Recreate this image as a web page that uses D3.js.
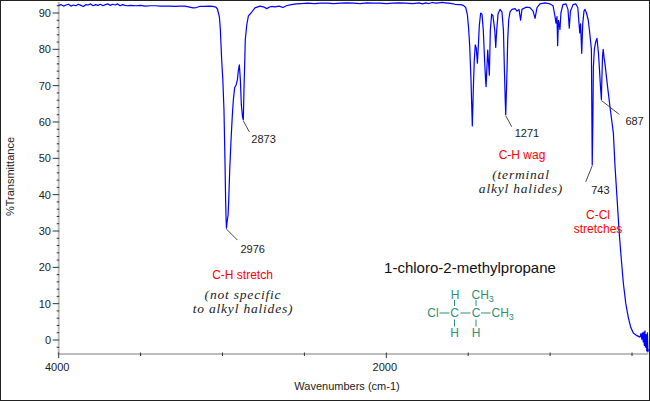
<!DOCTYPE html>
<html>
<head>
<meta charset="utf-8">
<script src="https://cdn.jsdelivr.net/npm/d3@7"></script>
<style>
  html, body { margin: 0; padding: 0; background: #fff; }
  svg { display: block; font-family: "Liberation Sans", Arial, sans-serif; }
</style>
</head>
<body>
<div id="chart"></div>
<script>
// Spectrum (wavenumber cm-1, %T)
const wavenumbers = [
  4000, 3985, 3970, 3955, 3940, 3925, 3910, 3895, 3880, 3865, 3850, 3835, 3820, 3805, 3790,
  3775, 3760, 3745, 3730, 3715, 3700, 3685, 3670, 3655, 3640, 3625, 3610, 3595, 3580, 3560,
  3530, 3500, 3470, 3440, 3410, 3380, 3350, 3320, 3290, 3260, 3230, 3200, 3180, 3160, 3140,
  3110, 3080, 3060, 3040, 3031, 3019, 3013, 3005, 2998, 2991, 2985, 2981, 2978, 2976, 2972,
  2966, 2962, 2956, 2948, 2940, 2934, 2926, 2917, 2909, 2903, 2897, 2891, 2885, 2878, 2873,
  2869, 2864, 2861, 2852, 2842, 2826, 2802, 2771, 2745, 2730, 2715, 2700, 2680, 2655, 2631,
  2610, 2580, 2550, 2520, 2480, 2440, 2400, 2360, 2320, 2280, 2240, 2200, 2160, 2120, 2080,
  2040, 2000, 1960, 1920, 1880, 1840, 1800, 1780, 1760, 1740, 1720, 1700, 1680, 1660, 1640,
  1620, 1600, 1580, 1560, 1545, 1530, 1515, 1505, 1498, 1491, 1483, 1477, 1475, 1469, 1463,
  1457, 1451, 1444, 1438, 1432, 1424, 1416, 1408, 1400, 1394, 1391, 1381, 1371, 1365, 1357,
  1349, 1338, 1332, 1326, 1318, 1306, 1294, 1285, 1279, 1274, 1271, 1263, 1259, 1253, 1245,
  1233, 1214, 1202, 1190, 1180, 1172, 1147, 1123, 1104, 1092, 1080, 1062, 1031, 1000, 982,
  970, 964, 958, 954, 949, 940, 934, 922, 903, 891, 883, 876, 860, 843, 831,
  819, 814, 807, 801, 793, 787, 778, 767, 757, 748, 743, 739, 736, 730, 722,
  714, 705, 698, 693, 687, 684, 680, 676, 670, 665, 650, 634, 614, 604, 590,
  578, 565, 553, 538, 523, 508, 492, 470, 451, 445, 440, 436, 432, 428, 425,
  421, 418, 414, 410, 406, 403, 400
];
const transmittance = [
  92.1, 92.3, 91.9, 92.2, 92.4, 91.9, 92.2, 92.0, 92.4, 92.1, 91.8, 92.3, 92.2, 92.5, 92.0,
  92.3, 92.1, 92.4, 92.0, 92.3, 92.5, 92.1, 92.4, 92.2, 92.5, 92.0, 92.3, 92.1, 92.0, 92.1,
  92.0, 92.1, 91.9, 92.0, 92.0, 91.9, 91.9, 91.9, 91.8, 91.9, 91.9, 91.6, 91.4, 91.5, 91.8,
  91.8, 91.9, 91.8, 91.6, 91.1, 88.9, 85.3, 77.0, 71.6, 63.3, 49.5, 38.5, 33.0, 30.8, 32.5,
  34.4, 38.5, 46.8, 55.0, 61.9, 66.0, 69.4, 70.2, 71.6, 74.3, 75.7, 71.6, 64.7, 61.5, 60.6,
  68.8, 77.0, 82.6, 86.7, 89.2, 90.0, 91.4, 91.9, 91.6, 91.2, 91.6, 91.8, 91.7, 91.9, 91.5,
  92.0, 92.3, 92.5, 92.6, 92.7, 92.6, 92.7, 92.7, 92.6, 92.7, 92.8, 92.7, 92.6, 92.8, 92.7,
  92.7, 92.6, 92.7, 92.8, 92.7, 92.6, 92.8, 92.5, 92.8, 92.6, 92.9, 92.7, 92.8, 92.9, 92.8,
  92.7, 92.6, 92.4, 92.3, 92.3, 92.1, 91.5, 89.5, 86.0, 81.0, 71.6, 62.0, 58.9, 68.8, 77.0,
  81.2, 80.4, 76.2, 81.2, 86.7, 90.0, 89.7, 85.3, 77.0, 71.6, 69.7, 79.8, 72.9, 85.3, 89.7,
  89.2, 85.3, 80.5, 85.3, 89.7, 91.0, 90.3, 85.3, 74.3, 66.0, 62.0, 74.3, 82.6, 88.0, 90.3,
  91.0, 91.2, 90.5, 91.0, 88.0, 91.0, 91.6, 91.5, 90.5, 88.5, 91.5, 92.5, 92.8, 92.5, 92.0,
  89.0, 87.2, 89.0, 81.0, 88.0, 85.5, 90.0, 92.3, 92.5, 91.0, 85.8, 90.5, 92.3, 92.5, 91.5,
  84.5, 87.0, 78.9, 87.0, 90.6, 91.0, 90.0, 88.0, 84.0, 80.0, 48.2, 60.0, 75.0, 80.0, 82.0,
  83.0, 79.0, 74.0, 70.0, 66.2, 72.0, 78.0, 80.0, 77.5, 76.0, 70.0, 64.0, 57.0, 48.0, 38.0,
  29.4, 22.0, 15.7, 10.0, 6.3, 3.5, 1.9, 1.2, 0.8, 1.8, 0.2, 2.0, -0.5, 2.2, -1.5,
  2.5, -2.0, 1.5, -3.0, 2.0, -3.3, -2.5
];

// Axis ticks
const xTickValues = [4000, 3500, 3000, 2500, 2000, 1500, 1000, 500];
const xTickLabels = [4000, 2000];
const yTickValues = [0, 10, 20, 30, 40, 50, 60, 70, 80, 90];

// Labelled peaks
const peakWavenumbers = [2976, 2873, 1271, 743, 687];
const peakLabels = ["2976", "2873", "1271", "743", "687"];

const width = 650, height = 401;

const svg = d3.select('#chart')
    .append('svg')
    .attr('width', width)
    .attr('height', height);

// scales
const x = d3.scaleLinear().domain([4000, 400]).range([58.7, 648.4]);
const y = d3.scaleLinear().domain([0, 90]).range([340, 13]);
const axisTop = 2, axisBottom = 354;

// frame
svg.append('rect')
    .attr('x', 0.5).attr('y', 0.5)
    .attr('width', width - 1).attr('height', height - 1)
    .attr('fill', '#fff')
    .attr('stroke', '#222');

// y axis
const yAxis = svg.append('g');
yAxis.append('line')
    .attr('x1', x(4000)).attr('x2', x(4000))
    .attr('y1', axisTop).attr('y2', axisBottom)
    .attr('stroke', '#bdbdbd').attr('stroke-width', 2);
yAxis.selectAll('line.minor')
    .data(d3.range(-2, 93, 2).filter(v => v % 10 !== 0))
    .enter().append('line')
    .attr('class', 'minor')
    .attr('x1', x(4000) - 2).attr('x2', x(4000) + 0.5)
    .attr('y1', d => y(d)).attr('y2', d => y(d))
    .attr('stroke', '#333');
yAxis.selectAll('line.major')
    .data(yTickValues)
    .enter().append('line')
    .attr('class', 'major')
    .attr('x1', x(4000) - 6).attr('x2', x(4000) + 0.5)
    .attr('y1', d => y(d)).attr('y2', d => y(d))
    .attr('stroke', '#333');
yAxis.selectAll('text')
    .data(yTickValues)
    .enter().append('text')
    .attr('x', 51).attr('y', d => y(d) + 4)
    .attr('text-anchor', 'end')
    .attr('font-size', 11)
    .attr('fill', '#222')
    .text(d => d);

// x axis
const xAxis = svg.append('g');
xAxis.append('line')
    .attr('x1', x(4000) - 1).attr('x2', x(400))
    .attr('y1', axisBottom).attr('y2', axisBottom)
    .attr('stroke', '#bdbdbd').attr('stroke-width', 2);
xAxis.selectAll('line.tick')
    .data(xTickValues)
    .enter().append('line')
    .attr('class', 'tick')
    .attr('x1', d => x(d)).attr('x2', d => x(d))
    .attr('y1', axisBottom - 1.5)
    .attr('y2', d => axisBottom + (xTickLabels.includes(d) ? 4 : 2))
    .attr('stroke', '#333');
xAxis.selectAll('text')
    .data(xTickLabels)
    .enter().append('text')
    .attr('x', d => x(d) - 1.5).attr('y', 371)
    .attr('text-anchor', 'middle')
    .attr('font-size', 11)
    .attr('fill', '#222')
    .text(d => d);

// axis titles
svg.append('text')
    .attr('transform', 'translate(13.5,176.5) rotate(-90)')
    .attr('text-anchor', 'middle')
    .attr('font-size', 11)
    .attr('fill', '#222')
    .text('%Transmittance');
svg.append('text')
    .attr('x', 347).attr('y', 390)
    .attr('text-anchor', 'middle')
    .attr('font-size', 11)
    .attr('fill', '#222')
    .text('Wavenumbers (cm-1)');

// spectrum
const points = wavenumbers.map((w, i) => [w, transmittance[i]]);
const line = d3.line()
    .x(d => x(d[0]))
    .y(d => y(d[1]));
svg.append('path')
    .datum(points)
    .attr('d', line)
    .attr('fill', 'none')
    .attr('stroke', '#0000ff')
    .attr('stroke-width', 1.2)
    .attr('stroke-linejoin', 'round');

// peak leaders + labels (offsets from the peak tip)
const leaderOffsets = [[11, 12], [6, 12], [6, 12], [-6.5, 17], [18, 15]];
const labelOffsets = [[14, 25], [8, 23], [9, 22], [-1, 29], [24, 26]];
peakWavenumbers.forEach((w, i) => {
    const T = transmittance[wavenumbers.indexOf(w)];
    const px = x(w), py = y(T);
    svg.append('line')
        .attr('x1', px).attr('y1', py + 1)
        .attr('x2', px + leaderOffsets[i][0]).attr('y2', py + leaderOffsets[i][1])
        .attr('stroke', '#333').attr('stroke-width', 0.9);
    svg.append('text')
        .attr('x', px + labelOffsets[i][0]).attr('y', py + labelOffsets[i][1])
        .attr('font-size', 11)
        .attr('fill', '#222')
        .text(peakLabels[i]);
});

// annotations
function redText(cx, by, txt) {
    svg.append('text')
        .attr('x', cx).attr('y', by)
        .attr('text-anchor', 'middle')
        .attr('font-size', 12)
        .attr('fill', '#ff0000')
        .text(txt);
}
function noteText(cx, by, txt) {
    svg.append('text')
        .attr('x', cx).attr('y', by)
        .attr('text-anchor', 'middle')
        .attr('font-family', '"Liberation Serif", "Times New Roman", serif')
        .attr('font-style', 'italic')
        .attr('font-size', 13.5)
        .attr('letter-spacing', 0.8)
        .attr('fill', '#222')
        .text(txt);
}
redText(242.5, 279, 'C-H stretch');
noteText(243, 298.5, '(not specific');
noteText(243, 312.5, 'to alkyl halides)');
redText(522, 159, 'C-H wag');
noteText(521, 178.5, '(terminal');
noteText(521, 192.5, 'alkyl halides)');
redText(598, 218.5, 'C-Cl');
redText(598, 232.5, 'stretches');

svg.append('text')
    .attr('x', 470).attr('y', 272.5)
    .attr('text-anchor', 'middle')
    .attr('font-size', 15)
    .attr('fill', '#111')
    .text('1-chloro-2-methylpropane');

// structure of the molecule
const teal = '#2f8f72';
const mol = svg.append('g').attr('fill', teal).attr('font-size', 12);
function atom(cx, by, txt, anchor) {
    const t = mol.append('text')
        .attr('x', cx).attr('y', by)
        .attr('text-anchor', anchor || 'middle');
    t.append('tspan').text(txt);
    return t;
}
function ch3(lx, by) {
    const t = atom(lx, by, 'CH', 'start');
    t.append('tspan').attr('font-size', 9).attr('dy', 3).text('3');
}
function bond(x1, y1, x2, y2) {
    mol.append('line')
        .attr('x1', x1).attr('y1', y1).attr('x2', x2).attr('y2', y2)
        .attr('stroke', teal).attr('stroke-width', 1);
}
atom(455, 299, 'H');
ch3(471.5, 299);
atom(433, 317, 'Cl');
atom(454.5, 317, 'C');
atom(476, 317, 'C');
ch3(491.5, 317);
atom(454.5, 337, 'H');
atom(476, 337, 'H');
bond(439.5, 313, 449.5, 313);
bond(460.5, 313, 470.5, 313);
bond(481, 313, 490.5, 313);
bond(454.5, 300, 454.5, 306);
bond(476, 300, 476, 306);
bond(454.5, 319.5, 454.5, 326.5);
bond(476, 319.5, 476, 326.5);
</script>
</body>
</html>
